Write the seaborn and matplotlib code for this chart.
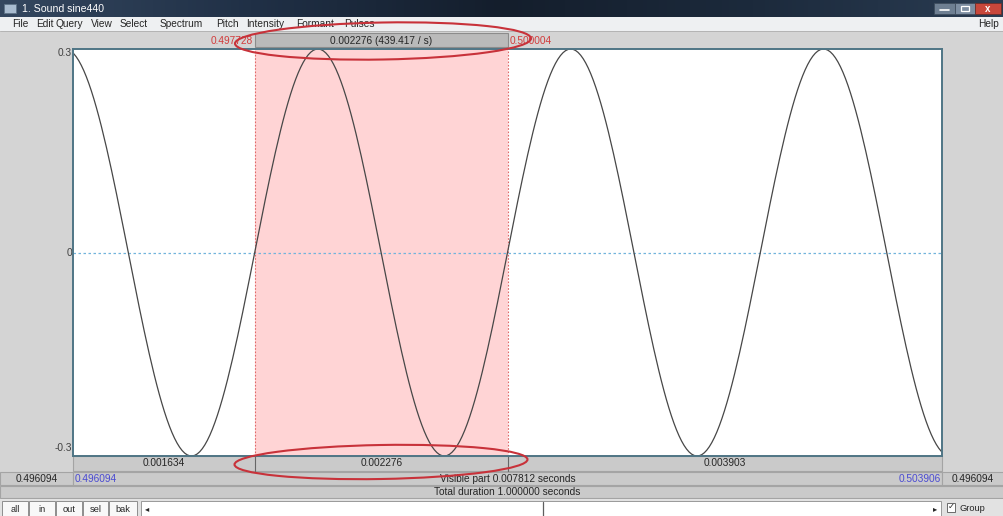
import numpy as np
import pandas as pd
import matplotlib
matplotlib.use("Agg")
import matplotlib.pyplot as plt
import seaborn as sns
from matplotlib.patches import Rectangle, Ellipse

sns.set_theme(style="white")
plt.rcParams["font.family"] = ["Liberation Sans", "DejaVu Sans"]

# --- the sound: a pure tone -------------------------------------------------
tone_freq = 440.0          # Hz
tone_amp = 0.3             # peak amplitude
sample_rate = 44100        # Hz
total_duration = 1.0       # s

# --- editor state -----------------------------------------------------------
view_start = 0.496094
view_end = 0.503906
sel_start = 0.497728
sel_end = 0.500004
seg_durations = [0.001634, 0.002276, 0.003903]   # before / inside / after selection
sel_rate = 439.417                               # 1 / selection duration
visible_part = 0.007812
outside_left = 0.496094
outside_right = 0.496094

title = "1. Sound sine440"
menu_items = ["File", "Edit", "Query", "View", "Select", "Spectrum",
              "Pitch", "Intensity", "Formant", "Pulses"]
buttons = ["all", "in", "out", "sel", "bak"]

# --- sampled waveform -------------------------------------------------------
n0 = int(np.floor(view_start * sample_rate))
n1 = int(np.ceil(view_end * sample_rate))
t = np.arange(n0, n1 + 1) / sample_rate
samples = pd.DataFrame({"time": t,
                        "amp": tone_amp * np.sin(2 * np.pi * tone_freq * t)})

W, H = 1004, 516
fig = plt.figure(figsize=(W / 100, H / 100), dpi=100)

# pixel layout of the editor window
PL, PR, PT, PB = 73, 942, 49, 456
GRAY = "#d4d4d4"
ROW = "#cacaca"
LINE = "#a4a4a4"
TXT = "#262626"
FS = 7.3

bg = fig.add_axes([0, 0, 1, 1], zorder=0)
bg.set_xlim(0, W)
bg.set_ylim(H, 0)
bg.axis("off")


def box(ax, x0, y0, x1, y1, fc, ec="none", lw=0.8, z=1):
    ax.add_patch(Rectangle((x0, y0), x1 - x0, y1 - y0, facecolor=fc,
                           edgecolor=ec, linewidth=lw, zorder=z))


def label(x, y, s, ha="center", color=TXT, fs=FS, **kw):
    bg.text(x, y, s, fontsize=fs, ha=ha, va="center", color=color, zorder=5, **kw)


box(bg, 0, 0, W, H, GRAY)

# title bar
grad = np.linspace(0, 1, 256)[None, :]
bg.imshow(grad, extent=(0, W, 17, 0), aspect="auto", zorder=2,
          cmap=matplotlib.colors.LinearSegmentedColormap.from_list(
              "tb", ["#34475f", "#203046", "#141e2c", "#1c2a3c", "#2a3c52"]))
box(bg, 4, 4, 16, 13, "#a9bcd0", ec="#5f7488", lw=0.6, z=3)
label(22, 9, title, ha="left", color="white", fs=7.6)
box(bg, 934, 3, 955, 14, "#6e7f92", ec="#3c4a5a", lw=0.5, z=3)
box(bg, 955, 3, 975, 14, "#7d8ea2", ec="#3c4a5a", lw=0.5, z=3)
box(bg, 975, 3, 1001, 14, "#c8473b", ec="#6a2a24", lw=0.5, z=3)
bg.plot([940, 949], [10, 10], color="white", lw=1.2, zorder=4)
box(bg, 961, 6, 969, 11, "none", ec="white", lw=0.9, z=4)
label(988, 8.5, "x", color="white", fs=7, fontweight="bold")

# menu bar
box(bg, 0, 17, W, 31, "#eef0f2", z=2)
bg.plot([0, W], [31, 31], color="#b4b4b4", lw=0.7, zorder=3)
menu_x = [12, 36, 56, 91, 120, 160, 216, 246, 296, 344]
for name, x in zip(menu_items, menu_x):
    label(x, 24, name, ha="left")
label(999, 24, "Help", ha="right")


def xpix(tv):
    return PL + (tv - view_start) / (view_end - view_start) * (PR - PL)


xs, xe = xpix(sel_start), xpix(sel_end)

# top band: selection duration box and the two cursor times
box(bg, xs, 33, xe, 47, "#bababa", ec="#8c8c8c", lw=0.8, z=2)
label((xs + xe) / 2, 40.5, f"{seg_durations[1]:.6f} ({sel_rate:.3f} / s)")
label(xs - 2, 41, f"{sel_start:.6f}", ha="right", color="#d23c3c")
label(xe + 2, 41, f"{sel_end:.6f}", ha="left", color="#d23c3c")

# amplitude labels
label(PL - 1, PT + 4, f"{tone_amp:g}", ha="right", color="#404040")
label(PL - 1, (PT + PB) / 2, "0", ha="right", color="#404040")
label(PL - 1, PB - 8, f"{-tone_amp:g}", ha="right", color="#404040")

# bottom row 1: durations of the parts around the selection
bounds = [view_start, sel_start, sel_end, view_end]
box(bg, PL, PB, PR, 471, ROW, ec=LINE, z=2)
for i, d in enumerate(seg_durations):
    xa, xb = xpix(bounds[i]), xpix(bounds[i + 1])
    if i > 0:
        bg.plot([xa, xa], [PB, 471], color="#666666", lw=0.8, zorder=3)
    label((xa + xb) / 2, 463.5, f"{d:.6f}")

# bottom row 2: visible part
for x0, x1 in [(0, PL), (PL, PR), (PR, W)]:
    box(bg, x0, 472, x1, 485, ROW, ec=LINE, z=2)
label(PL / 2, 478.5, f"{outside_left:.6f}")
label(PL + 2, 478.5, f"{view_start:.6f}", ha="left", color="#4b4bd2")
label((PL + PR) / 2, 478.5, f"Visible part {visible_part:.6f} seconds")
label(PR - 1, 478.5, f"{view_end:.6f}", ha="right", color="#4b4bd2")
label((PR + W) / 2, 478.5, f"{outside_right:.6f}")

# bottom row 3: total duration
box(bg, 0, 486, W, 498, ROW, ec=LINE, z=2)
label((PL + PR) / 2, 492, f"Total duration {total_duration:.6f} seconds")

# bottom row 4: zoom buttons, scroll bar, group checkbox
box(bg, 0, 499, W, H, "#e2e2e2", z=2)
bx = [2, 29, 56, 83, 109]
bw = [26, 26, 26, 25, 28]
for name, x, w in zip(buttons, bx, bw):
    box(bg, x, 501, x + w, 516, "#f8f8f8", ec="#8e8e8e", lw=0.7, z=3)
    label(x + w / 2, 509, name, fs=FS - 0.6)
box(bg, 141, 501, 941, 516, "#ffffff", ec="#9a9a9a", lw=0.7, z=3)
label(147, 509.5, "◂", fs=6)
label(935, 509.5, "▸", fs=6)
bg.plot([543, 543], [502, 516], color="#5e5e5e", lw=0.9, zorder=4)
box(bg, 947, 503, 955, 512, "#ffffff", ec="#6a6a6a", lw=0.7, z=3)
label(951, 507.5, "✓", fs=6)
label(960, 508.5, "Group", ha="left", fs=FS - 0.6)

# --- waveform panel ---------------------------------------------------------
ax = fig.add_axes([PL / W, (H - PB) / H, (PR - PL) / W, (PB - PT) / H], zorder=1)
ax.set_facecolor("white")
ax.axvspan(sel_start, sel_end, color="#ffd4d5", lw=0, zorder=0)
for tv in (sel_start, sel_end):
    ax.axvline(tv, color="#e06a6a", ls=(0, (1.5, 1.5)), lw=0.8, zorder=1)
ax.axhline(0, color="#72b4dc", ls=(0, (2, 2)), lw=0.9, zorder=1)
sns.lineplot(data=samples, x="time", y="amp", ax=ax, color="#474747",
             lw=0.9, estimator=None, sort=False, zorder=2)
ax.set_xlim(view_start, view_end)
ax.set_ylim(-tone_amp, tone_amp)
ax.set_xticks([])
ax.set_yticks([])
ax.set_xlabel("")
ax.set_ylabel("")
for sp in ax.spines.values():
    sp.set_visible(True)
    sp.set_color("#4f7585")
    sp.set_linewidth(1.4)

# --- red rings drawn around the selection duration ---------------------------
fg = fig.add_axes([0, 0, 1, 1], zorder=3)
fg.set_xlim(0, W)
fg.set_ylim(H, 0)
fg.axis("off")
fg.patch.set_alpha(0)
fg.add_patch(Ellipse((383, 41), 296, 37, angle=-1, fill=False,
                     edgecolor="#c8323a", lw=1.5))
fg.add_patch(Ellipse((381, 462), 293, 34, angle=-1, fill=False,
                     edgecolor="#c8323a", lw=1.5))

fig.savefig("out.png", dpi=100)
